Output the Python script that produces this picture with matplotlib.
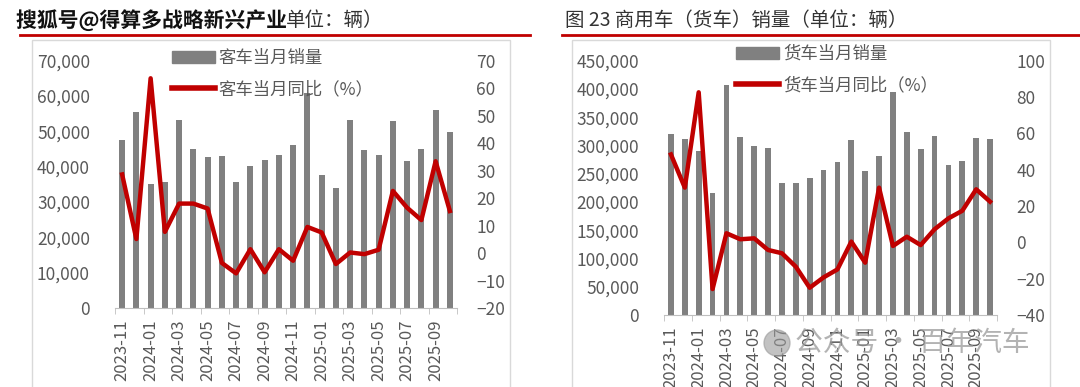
import matplotlib
matplotlib.use("Agg")
import matplotlib.pyplot as plt
import matplotlib.patheffects as pe
from matplotlib.patches import Rectangle, Ellipse
from matplotlib.lines import Line2D
from matplotlib.ticker import FuncFormatter, MultipleLocator

plt.rcParams['font.family'] = ['Noto Sans CJK SC', 'DejaVu Sans']

# 月份
months = ["2023-11", "2023-12", "2024-01", "2024-02", "2024-03", "2024-04",
          "2024-05", "2024-06", "2024-07", "2024-08", "2024-09", "2024-10",
          "2024-11", "2024-12", "2025-01", "2025-02", "2025-03", "2025-04",
          "2025-05", "2025-06", "2025-07", "2025-08", "2025-09", "2025-10"]

# 客车
bus_sales = [47600, 55500, 35100, 35700, 53200, 44900, 42700, 43100, 35700, 40100,
             41800, 43200, 46000, 60800, 37600, 34100, 53200, 44600, 43200, 52900,
             41700, 44900, 56000, 49800]
bus_yoy = [28.6, 5.1, 63.6, 7.7, 18.0, 18.0, 16.2, -3.6, -7.4, 1.4, -7.0, 1.4,
           -2.8, 9.5, 7.5, -4.0, 0.2, -0.4, 1.2, 22.6, 16.5, 12.0, 33.4, 15.3]

# 货车
truck_sales = [319700, 310800, 290200, 216400, 406900, 314300, 299600, 295500,
               233000, 233000, 243000, 256500, 270100, 309600, 254200, 280700,
               395100, 323800, 293100, 317300, 266000, 273100, 313200, 312000]
truck_yoy = [48.4, 30.1, 82.6, -25.7, 5.0, 1.7, 2.2, -4.2, -6.0, -13.4, -25.0, -19.3,
             -14.9, 0.4, -11.2, 30.1, -2.0, 3.1, -1.5, 7.2, 13.2, 17.4, 29.2, 22.4]

W, H = 1080, 387
BAR = "#808080"
RED = "#C00000"
TXT = "#595959"

fig = plt.figure(figsize=(W / 100, H / 100), dpi=100)
fig.patch.set_facecolor("white")


def fx(px):
    return px / W


def fy(py):
    return 1 - py / H


def panel(x0, x1, y_bottom, sales, yoy, ymax, ystep, rlim, rstep, labels, leg_xy, lpad):
    ax = fig.add_axes([fx(x0), fy(y_bottom), fx(x1 - x0), fy(60.7) - fy(y_bottom)])
    x = range(len(months))
    ax.bar(x, sales, width=0.42, color=BAR, zorder=2)
    ax.set_xlim(-0.5, len(months) - 0.5)
    ax.set_ylim(0, ymax)
    ax.yaxis.set_major_locator(MultipleLocator(ystep))
    ax.yaxis.set_major_formatter(FuncFormatter(lambda v, p: f"{int(v):,}"))
    ax.set_xticks(list(range(0, len(months), 2)))
    ax.set_xticklabels(months[::2], rotation=90, fontsize=12, color=TXT)
    ax.set_xticks([i - 0.5 for i in range(0, len(months) + 1, 2)], minor=True)
    ax.tick_params(axis="x", which="major", length=0, pad=8)
    ax.tick_params(axis="x", which="minor", length=4, color="#BFBFBF")
    ax.tick_params(axis="y", length=0, labelsize=12.5, labelcolor=TXT, pad=lpad)
    for s in ["top", "left", "right"]:
        ax.spines[s].set_visible(False)
    ax.spines["bottom"].set_color("#BFBFBF")

    ax2 = ax.twinx()
    ax2.plot(x, yoy, color=RED, lw=3.2, zorder=3)
    ax2.set_ylim(*rlim)
    ax2.yaxis.set_major_locator(MultipleLocator(rstep))
    ax2.tick_params(axis="y", length=0, labelsize=12.5, labelcolor=TXT, pad=14)
    for s in ax2.spines.values():
        s.set_visible(False)

    handles = [Rectangle((0, 0), 1, 1, color=BAR), Line2D([], [], color=RED, lw=4)]
    fig.legend(handles, labels, loc="upper left", bbox_to_anchor=(fx(leg_xy[0]), fy(leg_xy[1])),
               frameon=False, fontsize=12.5, labelcolor=TXT, handlelength=2.5,
               handletextpad=0.2, labelspacing=0.75, borderpad=0, borderaxespad=0)


panel(115, 457, 308, bus_sales, bus_yoy, 70000, 10000, (-20, 70), 10,
      ["客车当月销量", "客车当月同比（%）"], (172, 49), 18)
panel(664, 997, 315, truck_sales, truck_yoy, 450000, 50000, (-40, 100), 20,
      ["货车当月销量", "货车当月同比（%）"], (736, 45), 18)

# 面板边框
for x0, x1 in [(32, 510), (572, 1050)]:
    fig.add_artist(Rectangle((fx(x0), fy(H + 5)), fx(x1 - x0), fy(40) - fy(H + 5),
                             transform=fig.transFigure, fill=False, ec="#D9D9D9", lw=1))

# 标题与红线
fig.add_artist(Line2D([fx(20), fx(530)], [fy(35), fy(35)], color=RED, lw=2))
fig.add_artist(Line2D([fx(562), fx(1080)], [fy(35), fy(35)], color=RED, lw=2))
fig.text(fx(286), fy(20), "单位：辆）", fontsize=14, color="#333333", va="center")
fig.text(fx(565), fy(20), "图 23 商用车（货车）销量（单位：辆）", fontsize=14, color="#333333", va="center")

# 水印
fig.text(fx(16), fy(20), "搜狐号@得算多战略新兴产业", fontsize=15, color="#111111", va="center",
         fontweight="bold", path_effects=[pe.withStroke(linewidth=3, foreground="white")])
fig.add_artist(Ellipse((fx(777), fy(343)), fx(26), 26 / H, transform=fig.transFigure,
                       color="#9a9a9a", alpha=0.6))
fig.text(fx(795), fy(343), "公众号 · 百年汽车", fontsize=20, color="#9a9a9a", va="center", alpha=0.75)

fig.savefig("out.png", dpi=100)
